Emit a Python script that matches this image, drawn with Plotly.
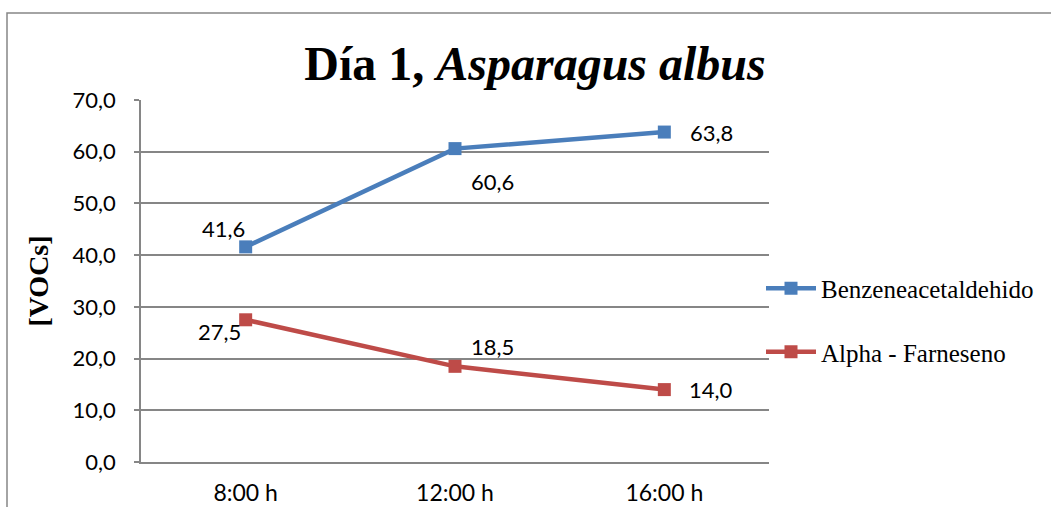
import plotly.graph_objects as go

# Sampling times and measured VOC concentrations
horas = ["8:00 h", "12:00 h", "16:00 h"]
benzeneacetaldehido = [41.6, 60.6, 63.8]
alpha_farneseno = [27.5, 18.5, 14.0]
y_ticks = [0, 10, 20, 30, 40, 50, 60, 70]

AZUL = "#4A7EBB"
ROJO = "#BE4B48"
GRIS = "#868686"
SANS = "Lato, 'Open Sans', sans-serif"
SERIF = "'Liberation Serif', 'Times New Roman', serif"
LABEL_FONT = dict(family=SANS, size=22, color="#000000")

# plot area in pixels
PL, PR, PT, PB = 141, 769, 100, 462
PW, PH = PR - PL, PB - PT


def fmt(v):
    return f"{v:.1f}".replace(".", ",")


fig = go.Figure()
fig.add_trace(go.Scatter(
    x=horas, y=benzeneacetaldehido, name="Benzeneacetaldehido",
    mode="lines+markers", legendgroup="b",
    line=dict(color=AZUL, width=4.5),
    marker=dict(symbol="square", size=13, color=AZUL),
))
fig.add_trace(go.Scatter(
    x=horas, y=alpha_farneseno, name="Alpha - Farneseno",
    mode="lines+markers", legendgroup="a",
    line=dict(color=ROJO, width=4.5),
    marker=dict(symbol="square", size=13, color=ROJO),
))

# Data labels with per-point offsets
offsets_b = [(-22, 18), (37, -33), (47, 0)]
offsets_a = [(-26, -12), (37, 20), (47, 0)]
for serie, offs in ((benzeneacetaldehido, offsets_b), (alpha_farneseno, offsets_a)):
    for h, v, (dx, dy) in zip(horas, serie, offs):
        fig.add_annotation(x=h, y=v, text=fmt(v), showarrow=False,
                           xshift=dx, yshift=dy, font=LABEL_FONT)

# Chart border (runs off the right and bottom edges)
fig.add_shape(type="rect", xref="paper", yref="paper",
              x0=(7 - PL) / PW, x1=(1070 - PL) / PW,
              y0=(PB - 530) / PH, y1=(PB - 13) / PH,
              line=dict(color=GRIS, width=1.5), fillcolor="rgba(0,0,0,0)",
              layer="below")

fig.update_layout(
    width=1051, height=507,
    margin=dict(l=PL, r=1051 - PR, t=PT, b=507 - PB),
    paper_bgcolor="white", plot_bgcolor="white",
    title=dict(
        text="<b>Día 1, <i>Asparagus albus</i></b>",
        x=535 / 1051, xanchor="center", y=1 - 63 / 507, yanchor="middle",
        font=dict(family=SERIF, size=48, color="#000000"),
    ),
    legend=dict(
        x=1.0 - 8 / PW, xanchor="left", y=(PB - 320) / PH, yanchor="middle",
        font=dict(family=SERIF, size=25, color="#000000"),
        traceorder="grouped", tracegroupgap=28, itemwidth=50,
        bgcolor="rgba(0,0,0,0)",
    ),
    showlegend=True,
)
fig.update_xaxes(
    type="category", range=[-0.5, 2.5], automargin=False,
    showline=True, linecolor=GRIS, linewidth=1.5,
    showgrid=False, ticks="", ticklabelstandoff=10,
    tickfont=dict(family=SANS, size=23, color="#000000"),
)
fig.update_yaxes(
    range=[0, 70], tickvals=y_ticks, ticktext=[fmt(v) for v in y_ticks],
    automargin=False,
    showline=True, linecolor=GRIS, linewidth=1.5,
    showgrid=True, gridcolor=GRIS, gridwidth=1.5,
    ticks="outside", ticklen=5, tickcolor=GRIS, tickwidth=1.5,
    ticklabelstandoff=14,
    tickfont=LABEL_FONT, zeroline=False,
    title=dict(text="<b>[VOCs]</b>", font=dict(family=SERIF, size=28, color="#000000"),
               standoff=16),
)

fig.write_html("out.html")
